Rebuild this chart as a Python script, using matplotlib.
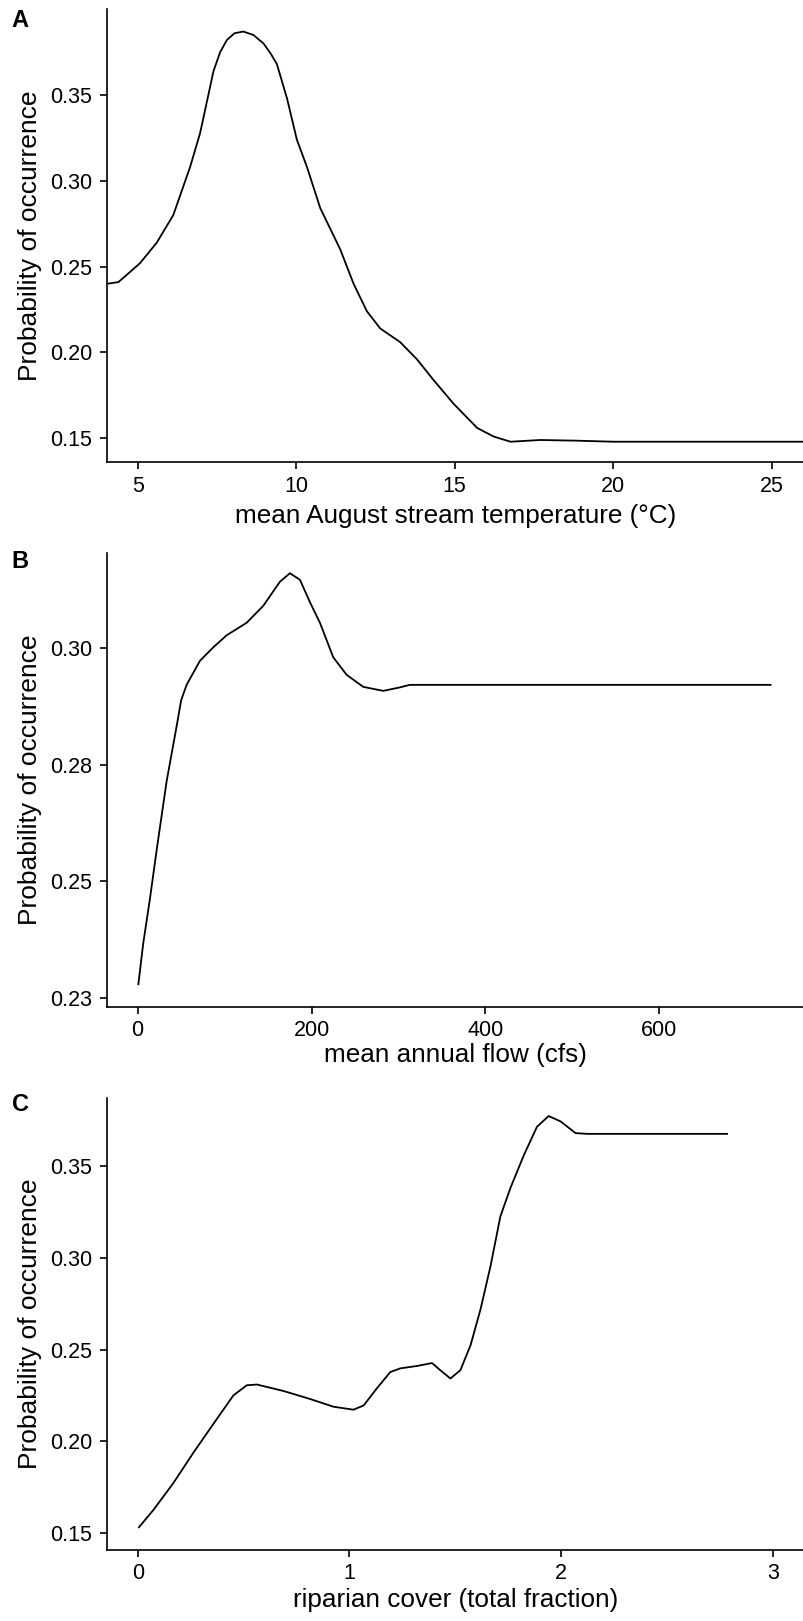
#!/usr/bin/env python3

import numpy as np
import matplotlib
matplotlib.use("Agg")
import matplotlib.pyplot as plt
from matplotlib.ticker import FormatStrFormatter

plt.rcParams['font.family'] = ['Liberation Sans', 'DejaVu Sans']

# Panel A: mean August stream temperature
temp_x = [4.02, 4.39, 5.07, 5.6, 6.12, 6.65, 6.97, 7.39, 7.6, 7.81, 8.05, 8.33,
          8.65, 8.97, 9.2, 9.39, 9.55, 9.71, 10.02, 10.34, 10.76, 11.05, 11.39,
          11.81, 12.23, 12.65, 13.28, 13.81, 14.33, 14.97, 15.71, 16.23, 16.76,
          17.7, 18.87, 20.0, 22.0, 26.0]
temp_y = [0.240, 0.241, 0.252, 0.264, 0.280, 0.308, 0.328, 0.364, 0.375, 0.382,
          0.386, 0.387, 0.385, 0.380, 0.374, 0.368, 0.358, 0.348, 0.324, 0.308,
          0.284, 0.273, 0.260, 0.240, 0.224, 0.214, 0.206, 0.196, 0.184, 0.170,
          0.156, 0.151, 0.148, 0.149, 0.1486, 0.148, 0.148, 0.148]

# Panel B: mean annual flow
flow_x = [0.7, 6.4, 14.1, 21.8, 33.3, 44.8, 50.0, 56.3, 71.6, 87.0, 102.3, 125.3,
          144.5, 163.6, 175.1, 186.7, 198.2, 209.7, 225.0, 240.4, 259.5, 282.5,
          301.7, 313.0, 729.0]
flow_y = [0.2326, 0.2409, 0.2498, 0.2595, 0.2733, 0.2843, 0.2895, 0.2926, 0.2974,
          0.3001, 0.3025, 0.3050, 0.3084, 0.3132, 0.3149, 0.3136, 0.3091, 0.3050,
          0.2981, 0.2946, 0.2922, 0.2914, 0.2921, 0.2926, 0.2926]

# Panel C: riparian cover
cover_x = [0.003, 0.074, 0.168, 0.263, 0.357, 0.452, 0.515, 0.563, 0.688, 0.815,
           0.925, 1.019, 1.067, 1.13, 1.193, 1.24, 1.319, 1.39, 1.429, 1.477,
           1.524, 1.572, 1.619, 1.666, 1.713, 1.761, 1.823, 1.886, 1.941, 1.997,
           2.068, 2.123, 2.788]
cover_y = [0.1529, 0.1627, 0.1773, 0.1939, 0.2095, 0.2251, 0.2306, 0.2310, 0.2275,
           0.2231, 0.2189, 0.2173, 0.2196, 0.2290, 0.2378, 0.2398, 0.2411, 0.2427,
           0.2388, 0.2343, 0.2388, 0.2524, 0.2719, 0.2953, 0.3226, 0.3382, 0.3557,
           0.3714, 0.3772, 0.3743, 0.3679, 0.3675, 0.3675]

panels = [
    dict(tag='A', x=temp_x, y=temp_y, xlabel='mean August stream temperature (°C)',
         xlim=(4.02, 26.02), ylim=(0.136, 0.3999),
         xticks=[5, 10, 15, 20, 25], yticks=[0.15, 0.20, 0.25, 0.30, 0.35],
         rect=[0.1327, 0.7148, 0.8673, 0.2794], xlab_y=-0.093, tag_y=1.0),
    dict(tag='B', x=flow_x, y=flow_y, xlabel='mean annual flow (cfs)',
         xlim=(-35.6, 766.4), ylim=(0.2283, 0.3189),
         xticks=[0, 200, 400, 600], yticks=list(np.linspace(0.23, 0.30, 4)),
         rect=[0.1327, 0.3790, 0.8673, 0.2797], xlab_y=-0.081, tag_y=1.008),
    dict(tag='C', x=cover_x, y=cover_y, xlabel='riparian cover (total fraction)',
         xlim=(-0.1466, 3.147), ylim=(0.1409, 0.3869),
         xticks=[0, 1, 2, 3], yticks=[0.15, 0.20, 0.25, 0.30, 0.35],
         rect=[0.1327, 0.0438, 0.8673, 0.2787], xlab_y=-0.085, tag_y=1.012),
]

fig = plt.figure(figsize=(8.04, 16.21), dpi=100)

for p in panels:
    ax = fig.add_axes(p['rect'])
    ax.plot(p['x'], p['y'], color='black', linewidth=1.3,
            solid_joinstyle='round', solid_capstyle='butt')
    ax.set_xlim(*p['xlim'])
    ax.set_ylim(*p['ylim'])
    ax.set_xticks(p['xticks'])
    ax.set_yticks(p['yticks'])
    ax.yaxis.set_major_formatter(FormatStrFormatter('%.2f'))
    for side in ['top', 'right']:
        ax.spines[side].set_visible(False)
    for side in ['left', 'bottom']:
        ax.spines[side].set_linewidth(1.2)
    ax.tick_params(axis='both', length=5, width=1.2, labelsize=15.5, colors='black')
    ax.tick_params(axis='x', pad=4.5)
    ax.tick_params(axis='y', pad=5.5)
    ax.set_xlabel(p['xlabel'], fontsize=18.8)
    ax.set_ylabel('Probability of occurrence', fontsize=19)
    ax.xaxis.set_label_coords(0.5, p['xlab_y'])
    ax.yaxis.set_label_coords(-0.0928, 0.5)
    ax.text(-0.136, p['tag_y'], p['tag'], transform=ax.transAxes, fontsize=17,
            fontweight='bold', ha='left', va='top')

fig.savefig('out.png', dpi=100)
